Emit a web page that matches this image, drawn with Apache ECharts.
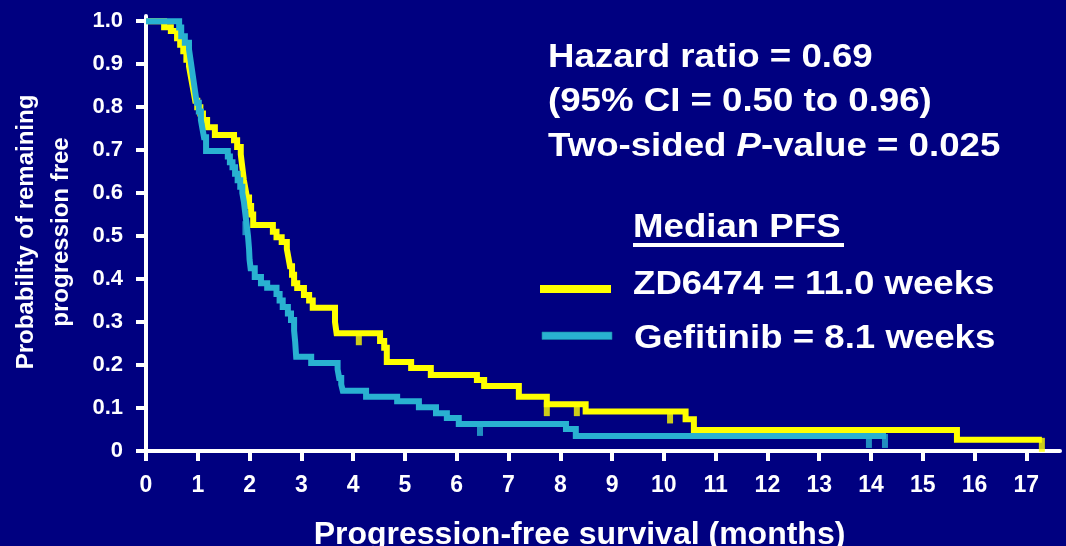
<!DOCTYPE html>
<html>
<head>
<meta charset="utf-8">
<script src="https://cdn.jsdelivr.net/npm/echarts@6/dist/echarts.min.js"></script>
<style>
html,body{margin:0;padding:0;background:#000080;}
#c{width:1066px;height:546px;}
</style>
</head>
<body>
<div id="c"></div>
<script>
// ---- data (months, probability) ----
const xTicks = [0,1,2,3,4,5,6,7,8,9,10,11,12,13,14,15,16,17];
const yTicks = [0,0.1,0.2,0.3,0.4,0.5,0.6,0.7,0.8,0.9,1.0];

const zd6474 = [[0,1],[0.35,0.986],[0.48,0.977],[0.60,0.96],[0.66,0.945],[0.72,0.93],[0.78,0.91],[0.83,0.895],[0.86,0.875],[0.89,0.855],[0.92,0.835],[0.95,0.815],[0.99,0.80],[1.05,0.785],[1.10,0.77],[1.18,0.753],[1.33,0.735],[1.70,0.723],[1.76,0.707],[1.83,0.69],[1.85,0.67],[1.87,0.65],[1.89,0.63],[1.92,0.61],[1.95,0.59],[1.99,0.57],[2.03,0.55],[2.07,0.526],[2.45,0.51],[2.52,0.497],[2.62,0.486],[2.72,0.47],[2.75,0.45],[2.78,0.43],[2.82,0.41],[2.86,0.39],[2.92,0.379],[3.05,0.363],[3.15,0.35],[3.22,0.333],[3.65,0.30],[3.68,0.274],[4.52,0.256],[4.60,0.24],[4.65,0.207],[5.12,0.193],[5.50,0.177],[6.39,0.165],[6.53,0.151],[7.20,0.126],[7.74,0.109],[8.49,0.092],[10.42,0.074],[10.58,0.049],[15.66,0.026],[17.30,0.026]];
const gefitinib = [[0,1],[0.64,0.985],[0.68,0.965],[0.75,0.95],[0.83,0.935],[0.86,0.91],[0.89,0.885],[0.92,0.86],[0.95,0.835],[0.98,0.81],[1.02,0.79],[1.06,0.77],[1.09,0.75],[1.12,0.73],[1.16,0.698],[1.58,0.685],[1.62,0.672],[1.67,0.66],[1.72,0.645],[1.77,0.63],[1.82,0.615],[1.86,0.60],[1.89,0.58],[1.91,0.56],[1.93,0.54],[1.95,0.52],[1.97,0.50],[1.99,0.47],[2.0,0.445],[2.02,0.425],[2.10,0.405],[2.22,0.39],[2.34,0.38],[2.52,0.365],[2.58,0.35],[2.64,0.335],[2.74,0.32],[2.80,0.305],[2.86,0.28],[2.88,0.255],[2.90,0.219],[3.19,0.205],[3.70,0.19],[3.73,0.17],[3.77,0.155],[3.80,0.14],[4.25,0.126],[4.85,0.116],[5.27,0.102],[5.60,0.088],[5.81,0.077],[6.04,0.063],[8.11,0.051],[8.30,0.035],[14.29,0.035]];
const zdCensor = [[4.11,0.274],[7.74,0.109],[8.32,0.109],[10.12,0.092],[17.30,0.026]];
const gefCensor = [[1.92,0.53],[6.45,0.063],[13.96,0.035],[14.27,0.035]];

const FONT = '"Liberation Sans", Arial, Helvetica, sans-serif';
const YELLOW = '#FFFF00';
const BLUE = '#29B1D1';

const chart = echarts.init(document.getElementById('c'), null, {renderer:'canvas'});

function bigText(x, y, text, extra) {
  return Object.assign({
    type: 'text', x: x, y: y, scaleX: 1.11, z: 10,
    style: {
      text: text, fill: '#ffffff', fontSize: 33, fontWeight: 'bold', fontFamily: FONT,
      align: 'left', verticalAlign: 'middle'
    }
  }, extra || {});
}

const option = {
  backgroundColor: '#000080',
  animation: false,
  grid: {left: 146, right: 6, top: 16, bottom: 95, containLabel: false},
  xAxis: {
    type: 'value', min: 0, max: 17.65,
    axisLine: {show: true, onZero: false, lineStyle: {color: '#ffffff', width: 4}},
    axisTick: {show: true, customValues: xTicks, length: 10, inside: false, lineStyle: {color: '#ffffff', width: 4}},
    axisLabel: {customValues: xTicks, color: '#ffffff', fontSize: 23, fontWeight: 'bold', fontFamily: FONT, margin: 23},
    splitLine: {show: false}
  },
  yAxis: {
    type: 'value', min: 0, max: 1.012,
    axisLine: {show: true, onZero: false, lineStyle: {color: '#ffffff', width: 4}},
    axisTick: {show: true, customValues: yTicks, length: 10, inside: false, lineStyle: {color: '#ffffff', width: 4}},
    axisLabel: {customValues: yTicks, color: '#ffffff', fontSize: 22, fontWeight: 'bold', fontFamily: FONT, margin: 23,
      formatter: function (v) { return v === 0 ? '0' : v.toFixed(1); }},
    splitLine: {show: false}
  },
  series: [
    {name: 'ZD6474', type: 'line', step: 'end', data: zd6474, showSymbol: false, symbol: 'none',
     lineStyle: {color: YELLOW, width: 6, join: 'miter', cap: 'butt'}, z: 2},
    {name: 'Gefitinib', type: 'line', step: 'end', data: gefitinib, showSymbol: false, symbol: 'none',
     lineStyle: {color: BLUE, width: 6, join: 'miter', cap: 'butt'}, z: 3},
    {name: 'ZD6474 censored', type: 'scatter', data: zdCensor, symbol: 'rect', symbolSize: [6, 14], symbolOffset: [0, 5],
     itemStyle: {color: YELLOW}, z: 2},
    {name: 'Gefitinib censored', type: 'scatter', data: gefCensor, symbol: 'rect', symbolSize: [6, 14], symbolOffset: [0, 5],
     itemStyle: {color: BLUE}, z: 3}
  ],
  graphic: [
    bigText(548, 57.5, 'Hazard ratio = 0.69'),
    bigText(548, 101.5, '(95% CI = 0.50 to 0.96)'),
    {
      type: 'text', x: 548, y: 146.5, scaleX: 1.11, z: 10,
      style: {
        text: '{a|Two-sided }{i|P}{a|-value = 0.025}',
        align: 'left', verticalAlign: 'middle',
        rich: {
          a: {fill: '#ffffff', fontSize: 33, fontWeight: 'bold', fontFamily: FONT},
          i: {fill: '#ffffff', fontSize: 33, fontWeight: 'bold', fontStyle: 'italic', fontFamily: FONT}
        }
      }
    },
    bigText(633, 227.5, 'Median PFS'),
    {type: 'rect', shape: {x: 633, y: 243, width: 211, height: 4}, style: {fill: '#ffffff'}, z: 10},
    {type: 'rect', shape: {x: 540, y: 285, width: 71, height: 8}, style: {fill: YELLOW}, z: 10},
    bigText(633, 284.5, 'ZD6474 = 11.0 weeks'),
    {type: 'rect', shape: {x: 542, y: 332, width: 70, height: 7.5}, style: {fill: BLUE, stroke: '#1a7fa0', lineWidth: 0.6}, z: 10},
    bigText(634, 338.5, 'Gefitinib = 8.1 weeks'),
    {
      type: 'text', x: 579.5, y: 535, z: 10,
      style: {text: 'Progression-free survival (months)', fill: '#ffffff', fontSize: 32, fontWeight: 'bold',
        fontFamily: FONT, align: 'center', verticalAlign: 'middle'}
    },
    {
      type: 'text', x: 43.5, y: 232, rotation: Math.PI / 2, z: 10,
      style: {text: 'Probability of remaining\nprogression free', fill: '#ffffff', fontSize: 24, fontWeight: 'bold',
        fontFamily: FONT, align: 'center', verticalAlign: 'middle', lineHeight: 35}
    }
  ]
};
chart.setOption(option);
</script>
</body>
</html>
